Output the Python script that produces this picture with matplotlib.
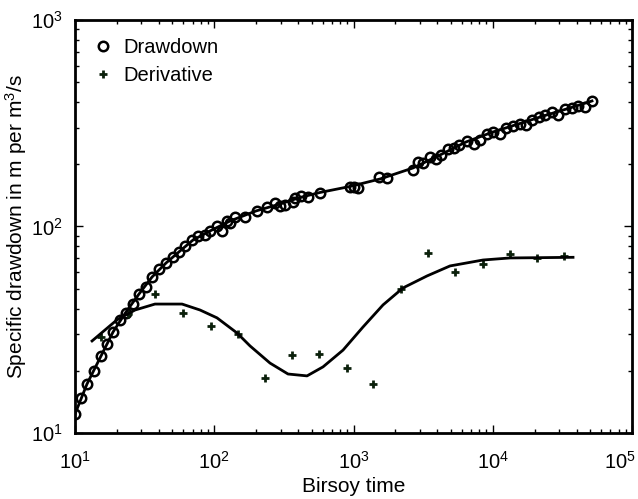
import matplotlib
matplotlib.use("Agg")
from matplotlib import pyplot as plt
from matplotlib.transforms import ScaledTranslation

plt.rcParams['font.family'] = ['Liberation Sans', 'DejaVu Sans']
plt.rcParams['mathtext.fontset'] = 'custom'
plt.rcParams['mathtext.rm'] = 'Liberation Sans'
plt.rcParams['mathtext.it'] = 'Liberation Sans:italic'
plt.rcParams['mathtext.default'] = 'regular'

# measured drawdown (Birsoy time, specific drawdown)
dd_t = [10.0, 11.04, 12.25, 13.69, 15.37, 16.97, 18.84, 21.15, 23.35, 25.96,
        28.81, 32.19, 35.91, 40.31, 45.03, 50.31, 56.10, 61.66, 68.89, 75.82,
        85.11, 93.2, 104.1, 113.7, 122.9, 129.8, 140.9, 164.9, 201.8, 238.1,
        273.1, 296.6, 319.5, 364.7, 380.2, 416.3, 467.5, 574.7, 943.6, 1000,
        1077, 1532, 1732, 2688, 2920, 3172, 3515, 3880, 4250, 4797,
        5245, 5723, 6500, 7298, 8097, 9017, 10040, 11220, 12510, 13980,
        15610, 17420, 19200, 21420, 23920, 26500, 29560, 33030, 36900, 41160,
        45970, 51360]
dd_s = [12.32, 14.72, 17.27, 20.03, 23.60, 26.89, 30.94, 35.26, 38.24, 42.14,
        46.96, 51.10, 57.12, 62.03, 66.33, 70.92, 75.01, 80.0, 85.55, 89.95,
        90.45, 95.1, 100.6, 95.6, 106.3, 104.0, 111.6, 110.8, 118.9, 124.7,
        130.0, 125.0, 127.1, 131.4, 137.0, 139.8, 139.0, 145.8, 155.4, 154.8,
        153.6, 173.1, 171.2, 187.7, 204.2, 203.7, 217.8, 212.7, 220.7, 236.5,
        240.5, 246.8, 259.4, 250.9, 263.2, 280.4, 287.7, 280.4, 298.9, 306.7,
        313.6, 310.1, 328.9, 337.1, 344.7, 356.5, 346.7, 371.5, 375.7, 382.1,
        377.8, 406.6]

# fitted drawdown curve
fit_t = [10.0, 12.19, 15.37, 18.75, 23.24, 28.81, 35.73, 45.03, 56.75, 70.38,
         93.2, 129.8, 199.5, 296.6, 412.9, 574.7, 943.6, 1550, 2675, 4180,
         6427, 10040, 15690, 23720, 35870, 51610]
fit_s = [12.36, 17.27, 23.60, 30.84, 38.55, 47.11, 56.93, 66.55, 76.1, 86.0,
         95.1, 106.3, 118.9, 128.5, 138.2, 146.1, 156.2, 169.8, 192.0, 221.9,
         256.6, 286.8, 315.4, 344.7, 374.9, 405.3]

# measured derivative
der_t = [15.4, 24.0, 37.8, 59.7, 94.3, 147.4, 231.5, 361.6, 568, 898,
         1388, 2183, 3411, 5357, 8470, 13230, 20790, 32490]
der_s = [29.2, 37.7, 46.9, 38.1, 33.0, 30.2, 18.5, 23.9, 24.0, 20.6,
         17.3, 49.7, 74.4, 60.2, 65.6, 73.6, 70.4, 72.0]

# fitted derivative curve
dfit_t = [13.25, 20.0, 26.98, 37.5, 58.7, 79.0, 104.6, 145.7, 180.6, 251.4,
          338.5, 463.6, 604, 841, 1170, 1629, 2267, 3372, 4932, 8511,
          13300, 20790, 37700]
dfit_s = [27.9, 35.3, 39.4, 42.1, 42.1, 39.4, 36.1, 30.5, 26.4, 21.8,
          19.3, 18.9, 20.9, 25.2, 32.6, 41.7, 50.4, 57.6, 64.4, 68.8,
          70.4, 70.6, 70.9]

xticks = [1e1, 1e2, 1e3, 1e4, 1e5]
xtick_labels = ['$10^{1}$', '$10^{2}$', '$10^{3}$', '$10^{4}$', '$10^{5}$']
yticks = [1e1, 1e2, 1e3]
ytick_labels = ['$10^{1}$', '$10^{2}$', '$10^{3}$']

fig = plt.figure(figsize=(6.38, 4.99), dpi=100)
ax = fig.add_axes([0.1176, 0.1323, 0.873, 0.8277])

ax.loglog(dd_t, dd_s, 'o', mfc='none', mec='k', ms=6.8, mew=1.8, label='Drawdown')
ax.loglog(der_t, der_s, '+', color='#0b200b', ms=6, mew=2, label='Derivative')
ax.loglog(fit_t, fit_s, '-', color='k', lw=2)
ax.loglog(dfit_t, dfit_s, '-', color='k', lw=2)

ax.set_xlim(10, 1e5)
ax.set_ylim(10, 1000)
ax.set_xticks(xticks, xtick_labels)
ax.set_yticks(yticks, ytick_labels)

ax.tick_params(which='both', direction='in', top=True, right=True, labelsize=14.5, width=1)
ax.tick_params(which='major', length=6)
ax.tick_params(which='minor', length=3)
ax.tick_params(axis='x', which='major', pad=13)
ax.tick_params(axis='y', which='major', pad=9)
for s in ax.spines.values():
    s.set_linewidth(2)

ax.set_xlabel('Birsoy time', fontsize=15, labelpad=3)
ax.set_ylabel('Specific drawdown in m per m$^3$/s', fontsize=15, labelpad=1)

ax.legend(loc='upper left', frameon=False, fontsize=14.5, handlelength=1.0,
          handletextpad=0.5, borderaxespad=0.5, labelspacing=0.45)

# keep the last x tick label inside the figure
last = ax.get_xticklabels()[-1]
last.set_transform(last.get_transform() + ScaledTranslation(-9 / 72, 0, fig.dpi_scale_trans))

fig.savefig('out.png', dpi=100)
